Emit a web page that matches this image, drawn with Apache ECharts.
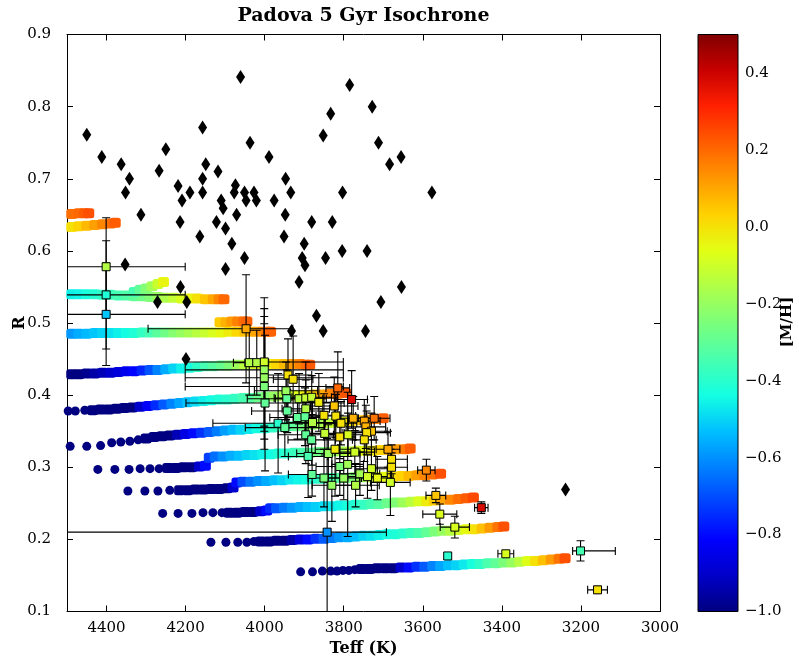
<!DOCTYPE html>
<html><head><meta charset="utf-8">
<script src="https://cdn.jsdelivr.net/npm/echarts@6/dist/echarts.min.js"></script>
<style>html,body{margin:0;padding:0;background:#fff}#c{width:799px;height:662px}</style>
</head><body><div id="c"></div>
<script>
// ---- colour scale ([M/H], jet) ----
const mhMin = -1.0, mhMax = 0.5;
const jetColors = ['#000080','#0000c8','#0000ff','#0040ff','#0080ff','#00bfff','#14ffe2','#48ffaf','#7bff7b','#afff48','#e2ff14','#ffd200','#ff9700','#ff5c00','#ff2100','#c80000','#800000'];
const xTicks = [3000, 4500, 200];
const yTicks = [0.1, 0.9, 0.1];

// ---- isochrone tracks: [Teff, R, [M/H]] ----
const iso155Dots = [[3909,0.155,-1],[3879,0.155,-1],[3854,0.156,-1],[3833,0.156,-1],[3817,0.156,-1],[3802,0.157,-1],[3787,0.157,-1],[3772,0.158,-1]];
const iso155Band = [[3755,.159,-1],[3735,.159,-1],[3715,.160,-1],[3695,.160,-1],[3675,.160,-1],[3655,.161,-0.9],[3635,.161,-0.8],[3615,.162,-0.74],[3595,.162,-0.68],[3575,.163,-0.62],[3555,.163,-0.57],[3535,.164,-0.53],[3515,.164,-0.5],[3495,.165,-0.47],[3475,.166,-0.43],[3455,.166,-0.39],[3435,.167,-0.34],[3415,.167,-0.3],[3395,.168,-0.25],[3375,.168,-0.2],[3355,.169,-0.14],[3335,.170,-0.07],[3315,.170,0.0],[3295,.171,0.06],[3275,.172,0.12],[3255,.173,0.18],[3240,.174,0.24]];
const iso196Dots = [[4136,.196,-1],[4098,.196,-1],[4068,.196,-1],[4045,.196,-1],[4027,.197,-1]];
const iso196Band = [[4010,.197,-1],[3990,.197,-1],[3970,.198,-1],[3950,.198,-1],[3930,.199,-0.95],[3910,.200,-0.87],[3890,.200,-0.8],[3870,.201,-0.74],[3850,.201,-0.68],[3830,.202,-0.63],[3810,.203,-0.59],[3790,.203,-0.56],[3770,.204,-0.53],[3750,.205,-0.5],[3730,.205,-0.48],[3710,.206,-0.46],[3690,.207,-0.44],[3670,.207,-0.42],[3650,.208,-0.4],[3630,.209,-0.37],[3610,.209,-0.34],[3590,.210,-0.3],[3570,.211,-0.25],[3550,.212,-0.2],[3530,.212,-0.15],[3510,.213,-0.1],[3490,.214,-0.05],[3470,.214,0.0],[3450,.215,0.06],[3430,.216,0.12],[3410,.217,0.18],[3395,.218,0.24]];
const iso236Dots = [[4258,.236,-1],[4219,.236,-1],[4184,.236,-1],[4156,.237,-1],[4131,.237,-1],[4108,.237,-1]];
const iso236Band = [[4090,.237,-1],[4070,.237,-1],[4050,.238,-1],[4030,.238,-1],[4010,.239,-0.9],[3995,.240,-0.8],[3985,.243,-0.75],[3970,.243,-0.68],[3950,.244,-0.63],[3930,.244,-0.59],[3910,.245,-0.56],[3890,.245,-0.53],[3870,.245,-0.51],[3850,.246,-0.49],[3830,.246,-0.47],[3810,.247,-0.45],[3790,.247,-0.43],[3770,.248,-0.41],[3750,.248,-0.38],[3730,.249,-0.35],[3710,.249,-0.32],[3690,.250,-0.28],[3670,.251,-0.24],[3650,.251,-0.19],[3630,.252,-0.14],[3610,.253,-0.08],[3590,.253,-0.02],[3570,.254,0.04],[3550,.255,0.1],[3530,.255,0.15],[3510,.256,0.19],[3490,.257,0.22],[3472,.258,0.25]];
const iso267Dots = [[4346,.267,-1],[4303,.267,-1],[4270,.267,-1],[4240,.268,-1]];
const iso267Band = [[4215,.268,-1],[4195,.268,-1],[4175,.269,-1],[4155,.269,-1],[4135,.270,-1],[4115,.270,-1],[4095,.271,-1],[4080,.272,-0.9],[4070,.279,-0.8],[4055,.280,-0.7],[4035,.280,-0.64],[4015,.281,-0.6],[3995,.281,-0.56],[3975,.282,-0.53],[3955,.282,-0.5],[3935,.283,-0.47],[3915,.283,-0.45],[3895,.283,-0.43],[3875,.284,-0.41],[3855,.284,-0.38],[3835,.285,-0.35],[3815,.285,-0.32],[3795,.285,-0.28],[3775,.286,-0.24],[3755,.286,-0.2],[3735,.286,-0.15],[3715,.287,-0.1],[3695,.287,-0.05],[3675,.287,0.0],[3655,.288,0.03],[3635,.288,0.07],[3615,.289,0.11],[3595,.289,0.15],[3575,.290,0.19],[3555,.291,0.24]];
const iso297Dots = [[4422,.297,-1],[4379,.297,-1],[4343,.297,-1],[4315,.298,-1],[4290,.298,-1],[4267,.298,-1]];
const iso297Band = [[4245,.299,-1],[4225,.299,-1],[4205,.300,-1],[4185,.300,-1],[4165,.301,-0.9],[4150,.302,-0.8],[4140,.313,-0.72],[4125,.315,-0.65],[4105,.315,-0.6],[4085,.316,-0.56],[4065,.316,-0.53],[4045,.317,-0.5],[4025,.317,-0.48],[4005,.318,-0.46],[3985,.318,-0.44],[3965,.319,-0.42],[3945,.319,-0.4],[3925,.320,-0.37],[3905,.320,-0.34],[3885,.320,-0.31],[3865,.321,-0.28],[3845,.321,-0.25],[3825,.322,-0.21],[3805,.322,-0.17],[3785,.322,-0.13],[3765,.323,-0.09],[3745,.323,-0.05],[3725,.323,-0.01],[3705,.324,0.03],[3685,.324,0.07],[3665,.325,0.12],[3645,.325,0.17],[3632,.326,0.22]];
const iso329Dots = [[4492,.329,-1],[4450,.329,-1],[4415,.330,-1],[4387,.334,-1],[4364,.335,-1],[4341,.336,-1],[4320,.338,-1]];
const iso329Band = [[4300,.340,-1],[4280,.342,-1],[4260,.343,-1],[4240,.344,-1],[4220,.345,-0.93],[4200,.346,-0.86],[4180,.347,-0.8],[4160,.348,-0.74],[4140,.349,-0.68],[4120,.350,-0.63],[4100,.351,-0.58],[4080,.352,-0.54],[4060,.352,-0.5],[4040,.353,-0.47],[4020,.354,-0.44],[4000,.354,-0.42],[3980,.355,-0.39],[3960,.356,-0.36],[3940,.357,-0.33],[3920,.357,-0.3],[3900,.358,-0.26],[3880,.359,-0.22],[3860,.360,-0.18],[3840,.361,-0.14],[3820,.362,-0.1],[3800,.363,-0.05],[3780,.364,0.0],[3760,.365,0.05],[3740,.366,0.1],[3720,.367,0.16],[3700,.368,0.22]];
const iso378Dots = [[4497,.378,-1],[4479,.378,-1],[4455,.379,-1]];
const iso378Band = [[4435,.379,-1],[4415,.380,-1],[4395,.380,-1],[4375,.381,-1],[4355,.382,-1],[4335,.383,-1],[4315,.384,-0.9],[4295,.385,-0.82],[4275,.386,-0.75],[4255,.387,-0.68],[4235,.388,-0.62],[4215,.389,-0.57],[4195,.390,-0.53],[4175,.391,-0.49],[4155,.392,-0.46],[4135,.393,-0.44],[4115,.394,-0.42],[4095,.394,-0.4],[4075,.395,-0.38],[4055,.396,-0.35],[4035,.396,-0.32],[4015,.397,-0.28],[3995,.398,-0.24],[3975,.398,-0.2],[3955,.399,-0.16],[3935,.399,-0.12],[3915,.400,-0.07],[3895,.400,-0.02],[3875,.401,0.04],[3855,.401,0.1],[3835,.402,0.15],[3815,.402,0.19],[3795,.403,0.23]];
const iso429Band = [[4488,.429,-1],[4470,.429,-1],[4450,.430,-0.98],[4430,.430,-0.95],[4410,.431,-0.93],[4390,.431,-0.9],[4370,.432,-0.87],[4350,.433,-0.84],[4330,.433,-0.81],[4310,.434,-0.76],[4290,.435,-0.69],[4270,.435,-0.62],[4250,.436,-0.56],[4230,.437,-0.5],[4210,.437,-0.46],[4190,.438,-0.43],[4170,.439,-0.39],[4150,.440,-0.35],[4130,.440,-0.32],[4110,.441,-0.29],[4090,.441,-0.25],[4070,.442,-0.19],[4050,.442,-0.14],[4030,.443,-0.09],[4010,.443,-0.05],[3990,.443,-0.02],[3970,.443,0.02],[3950,.443,0.07],[3930,.443,0.12],[3910,.443,0.16],[3895,.442,0.19],[3886,.442,0.22]];
const iso487Band = [[4488,.485,-0.59],[4470,.485,-0.56],[4450,.485,-0.54],[4430,.486,-0.52],[4410,.486,-0.5],[4390,.486,-0.48],[4370,.486,-0.46],[4350,.486,-0.44],[4330,.486,-0.42],[4310,.487,-0.38],[4290,.487,-0.35],[4270,.487,-0.31],[4250,.487,-0.27],[4230,.487,-0.23],[4210,.487,-0.2],[4190,.487,-0.17],[4170,.487,-0.14],[4150,.487,-0.11],[4130,.487,-0.08],[4110,.487,-0.05],[4090,.488,-0.02],[4070,.488,0.02],[4050,.488,0.06],[4030,.488,0.1],[4010,.488,0.14],[3995,.488,0.18],[3985,.488,0.21]];
const iso502Band = [[4113,.501,0.04],[4098,.501,0.08],[4083,.502,0.12],[4068,.502,0.16],[4053,.502,0.19],[4045,.502,0.21]];
const iso540Band = [[4488,.540,-0.46],[4470,.540,-0.45],[4450,.540,-0.43],[4430,.540,-0.41],[4410,.539,-0.39],[4390,.539,-0.37],[4370,.538,-0.35],[4350,.538,-0.33],[4330,.537,-0.3],[4310,.537,-0.27],[4290,.536,-0.24],[4270,.536,-0.2],[4250,.535,-0.16],[4230,.535,-0.12],[4210,.534,-0.08],[4190,.534,-0.04],[4170,.534,0.0],[4150,.533,0.05],[4130,.533,0.1],[4115,.533,0.15],[4103,.533,0.2]];
const iso540Branch = [[4330,.543,-0.35],[4315,.546,-0.3],[4300,.548,-0.24],[4285,.551,-0.18],[4270,.554,-0.11],[4256,.557,-0.04]];
const iso636Band = [[4488,.633,0.0],[4470,.634,0.03],[4450,.635,0.07],[4430,.636,0.11],[4410,.637,0.15],[4390,.638,0.19],[4378,.639,0.22]];
const iso652Band = [[4488,.651,0.19],[4470,.652,0.2],[4455,.652,0.22],[4445,.652,0.24]];

// ---- observed stars: [Teff, R, [M/H], Teff err (hot side), Teff err (cool side), R err] ----
const stars = [
 [4401,0.578,-0.15,200,200,0.068],[4401,0.539,-0.42,200,200,0.075],[4401,0.512,-0.52,200,200,0.071],
 [4047,0.492,0.10,248,118,0.075],[4039,0.445,-0.15,40,40,0.045],[4020,0.445,-0.15,30,30,0.045],
 [4001,0.446,-0.10,200,200,0.089],[4001,0.435,-0.20,200,200,0.085],[4001,0.424,-0.20,200,200,0.085],
 [4001,0.412,-0.25,200,200,0.087],[3999,0.389,-0.30,200,200,0.094],[3941,0.428,0.0,60,60,0.05],
 [3928,0.422,0.0,50,50,0.06],[3946,0.406,-0.20,80,80,0.04],[3944,0.395,-0.30,100,100,0.04],
 [3913,0.395,-0.15,60,60,0.035],[3896,0.396,-0.12,80,80,0.05],[3881,0.397,-0.12,50,50,0.03],
 [3863,0.390,-0.02,40,40,0.04],[3815,0.410,0.20,30,30,0.05],[3780,0.394,0.38,40,40,0.04],
 [3943,0.378,-0.30,90,90,0.03],[3896,0.381,-0.15,60,60,0.04],[3917,0.369,-0.30,70,70,0.03],
 [3898,0.370,-0.30,50,50,0.04],[3879,0.362,-0.15,60,60,0.03],[3850,0.372,0.0,40,40,0.03],
 [3824,0.385,0.05,60,60,0.04],[3820,0.371,0.0,50,50,0.03],[3807,0.361,0.0,40,40,0.03],
 [3776,0.368,0.08,50,50,0.03],[3748,0.364,0.10,40,40,0.03],[3723,0.368,0.18,40,40,0.03],
 [3744,0.356,0.08,50,50,0.03],[3730,0.350,0.05,40,40,0.025],[3742,0.348,0.0,60,60,0.03],
 [3748,0.338,0.0,30,30,0.03],[3966,0.361,-0.40,165,165,0.069],[3949,0.355,-0.30,100,100,0.04],
 [3848,0.347,-0.12,50,50,0.03],[3896,0.345,-0.30,70,70,0.04],[3810,0.342,0.0,40,40,0.03],
 [3789,0.345,-0.08,50,50,0.03],[3881,0.338,-0.30,60,60,0.035],[3839,0.319,-0.20,80,80,0.04],
 [3822,0.325,-0.02,50,50,0.065],[3772,0.321,-0.10,50,50,0.03],[3688,0.325,0.10,30,30,0.025],
 [3679,0.311,0.0,40,40,0.02],[3679,0.300,0.0,40,40,0.02],[3890,0.315,-0.35,50,50,0.057],
 [3810,0.301,-0.25,60,60,0.04],[3790,0.304,-0.18,40,40,0.10],[3759,0.291,-0.18,50,50,0.03],
 [3730,0.298,-0.10,40,40,0.03],[3740,0.287,-0.10,50,50,0.03],[3880,0.290,-0.30,60,60,0.03],
 [3850,0.285,-0.25,40,40,0.04],[3830,0.275,-0.20,50,50,0.05],[3800,0.285,-0.20,40,40,0.03],
 [3770,0.275,-0.15,60,60,0.03],[3715,0.285,-0.05,40,40,0.03],
 [3591,0.296,0.15,22,22,0.015],[3682,0.279,-0.10,50,50,0.046],[3567,0.261,0.05,25,25,0.01],
 [3557,0.235,-0.08,43,43,0.014],[3519,0.217,-0.08,37,37,0.015],[3452,0.244,0.38,17,17,0.008],
 [3537,0.177,-0.40,6,6,0.004],[3390,0.180,-0.08,20,20,0.004],[3201,0.184,-0.35,20,88,0.014],
 [3158,0.130,0.0,25,25,0.005],[3842,0.210,-0.60,900,150,0.13]
];

// ---- comparison sample (black diamonds): [Teff, R] ----
const diamonds = [[4450,0.761],[4412,0.730],[4363,0.720],[4342,0.700],[4352,0.681],[4313,0.650],[4267,0.711],[4250,0.741],[4219,0.690],[4209,0.670],[4214,0.640],[4189,0.681],[4157,0.771],[4149,0.720],[4157,0.700],[4157,0.681],[4164,0.620],[4118,0.710],[4110,0.670],[4105,0.659],[4122,0.640],[4099,0.631],[4083,0.610],[4061,0.841],[4074,0.691],[4077,0.681],[4071,0.650],[4051,0.681],[4047,0.670],[4037,0.750],[4027,0.681],[4021,0.670],[4051,0.590],[3989,0.730],[3976,0.670],[3947,0.700],[3934,0.681],[3948,0.650],[3951,0.620],[3900,0.610],[3905,0.590],[3898,0.580],[3881,0.640],[3846,0.590],[3852,0.760],[3833,0.790],[3785,0.830],[3829,0.640],[3803,0.681],[3804,0.600],[4353,0.581],[4099,0.575],[3728,0.800],[3712,0.750],[3684,0.720],[3655,0.730],[3577,0.681],[3741,0.600],[4213,0.550],[4271,0.529],[4197,0.529],[4199,0.450],[3913,0.557],[3654,0.550],[3706,0.529],[3869,0.510],[3852,0.489],[3745,0.489],[3932,0.489],[3239,0.269]];

const cbTicks = [-1.0, 0.5, 0.2];

// ---- build ----
const dotsAll = [].concat(iso155Dots, iso196Dots, iso236Dots, iso267Dots, iso297Dots, iso329Dots, iso378Dots);
const bandsAll = [].concat(iso155Band, iso196Band, iso236Band, iso267Band, iso297Band, iso329Band, iso378Band, iso429Band, iso487Band, iso502Band, iso540Band, iso540Branch, iso636Band, iso652Band);

const serif = "'DejaVu Serif', 'Liberation Serif', serif";
const fmtMinus = v => (v < 0 ? '\u2212' : '') + Math.abs(v).toFixed(1);

const chart = echarts.init(document.getElementById('c'), null, {renderer: 'canvas'});
const axisCommon = {
  type: 'value', splitLine: {show: false},
  axisLine: {lineStyle: {color: '#000', width: 1}},
  axisTick: {inside: true, length: 6, lineStyle: {color: '#000'}},
  axisLabel: {color: '#000', fontFamily: serif, fontSize: 15}
};
const rotLabel = (txt, x, y, size) => ({
  type: 'text', x: x, y: y, rotation: Math.PI / 2, silent: true,
  style: {text: txt, font: 'bold ' + size + 'px ' + serif, fill: '#000',
    align: 'center', verticalAlign: 'middle', textAlign: 'center', textVerticalAlign: 'middle'}
});
chart.setOption({
  animation: false,
  grid: [
    {left: 67, right: 139, top: 34.5, bottom: 50.5, containLabel: false, outerBoundsMode: 'none'},
    {left: 698, right: 61, top: 34.5, bottom: 50.5, containLabel: false, outerBoundsMode: 'none'}
  ],
  graphic: [rotLabel('R', 20, 323, 16), rotLabel('[M/H]', 787, 322, 15)],
  xAxis: [
    Object.assign({}, axisCommon, {gridIndex: 0, min: xTicks[0], max: xTicks[1], interval: xTicks[2], inverse: true, position: 'bottom',
      axisLabel: Object.assign({}, axisCommon.axisLabel, {showMaxLabel: false, margin: 9, formatter: v => String(v)}),
      name: 'Teff (K)', nameLocation: 'middle', nameGap: 28,
      nameTextStyle: {fontFamily: serif, fontWeight: 'bold', fontSize: 16, color: '#000'}}),
    Object.assign({}, axisCommon, {gridIndex: 0, min: xTicks[0], max: xTicks[1], interval: xTicks[2], inverse: true, position: 'top',
      axisLabel: {show: false},
      name: 'Padova 5 Gyr Isochrone', nameLocation: 'middle', nameGap: 9,
      nameTextStyle: {fontFamily: serif, fontWeight: 'bold', fontSize: 19, color: '#000', verticalAlign: 'bottom'}}),
    {type: 'category', gridIndex: 1, data: ['cb'], show: false}
  ],
  yAxis: [
    Object.assign({}, axisCommon, {gridIndex: 0, min: yTicks[0], max: yTicks[1], interval: yTicks[2], position: 'left',
      axisLabel: Object.assign({}, axisCommon.axisLabel, {formatter: v => v.toFixed(1), margin: 16})}),
    Object.assign({}, axisCommon, {gridIndex: 0, min: yTicks[0], max: yTicks[1], interval: yTicks[2], position: 'right',
      axisLabel: {show: false}}),
    Object.assign({}, axisCommon, {gridIndex: 1, min: cbTicks[0], max: cbTicks[1], interval: cbTicks[2], position: 'right',
      axisLine: {show: false},
      axisLabel: Object.assign({}, axisCommon.axisLabel, {formatter: fmtMinus, showMaxLabel: false, margin: 7})})
  ],
  visualMap: {
    type: 'continuous', show: false, min: mhMin, max: mhMax, dimension: 2,
    seriesIndex: [1, 2, 4], inRange: {color: jetColors}
  },
  series: [
    { // colour bar
      type: 'custom', xAxisIndex: 2, yAxisIndex: 2, data: [[0, mhMin, mhMax]], silent: true, z: 1,
      renderItem: (params, api) => {
        const cs = params.coordSys;
        const top = api.coord([0, api.value(2)])[1];
        const bot = api.coord([0, api.value(1)])[1];
        return {type: 'rect', shape: {x: cs.x, y: top, width: cs.width, height: bot - top},
          style: {fill: new echarts.graphic.LinearGradient(0, 1, 0, 0,
            jetColors.map((c, i) => ({offset: i / (jetColors.length - 1), color: c}))),
            stroke: '#000', lineWidth: 1}};
      }
    },
    { // isochrone low-metallicity dots
      type: 'scatter', xAxisIndex: 0, yAxisIndex: 0, data: dotsAll, symbol: 'circle', symbolSize: 9, z: 2,
      itemStyle: {opacity: 1}
    },
    { // isochrone dense bands
      type: 'scatter', xAxisIndex: 0, yAxisIndex: 0, data: bandsAll, symbol: 'roundRect', symbolSize: [11, 10], z: 2,
      itemStyle: {opacity: 1}
    },
    { // error bars
      type: 'custom', xAxisIndex: 0, yAxisIndex: 0, data: stars, z: 3, clip: true,
      encode: {x: 0, y: 1},
      renderItem: (params, api) => {
        const t = api.value(0), r = api.value(1), eh = api.value(3), ec = api.value(4), er = api.value(5);
        const pH = api.coord([t + eh, r]), pC = api.coord([t - ec, r]);
        const pL = api.coord([t, r - er]), pU = api.coord([t, r + er]);
        const c = 4;
        const st = {stroke: '#000', lineWidth: 1.1};
        const ln = (x1, y1, x2, y2) => ({type: 'line', shape: {x1, y1, x2, y2}, style: st});
        return {type: 'group', children: [
          ln(pH[0], pH[1], pC[0], pC[1]), ln(pL[0], pL[1], pU[0], pU[1]),
          ln(pH[0], pH[1] - c, pH[0], pH[1] + c), ln(pC[0], pC[1] - c, pC[0], pC[1] + c),
          ln(pL[0] - c, pL[1], pL[0] + c, pL[1]), ln(pU[0] - c, pU[1], pU[0] + c, pU[1])
        ]};
      }
    },
    { // stars (squares)
      type: 'scatter', xAxisIndex: 0, yAxisIndex: 0, data: stars, symbol: 'rect', symbolSize: 8, z: 4,
      itemStyle: {borderColor: '#000', borderWidth: 1, opacity: 1}
    },
    { // comparison sample
      type: 'scatter', xAxisIndex: 0, yAxisIndex: 0, data: diamonds, symbol: 'diamond', symbolSize: [9, 14], z: 5,
      itemStyle: {color: '#000', opacity: 1}
    }
  ]
});
</script></body></html>
